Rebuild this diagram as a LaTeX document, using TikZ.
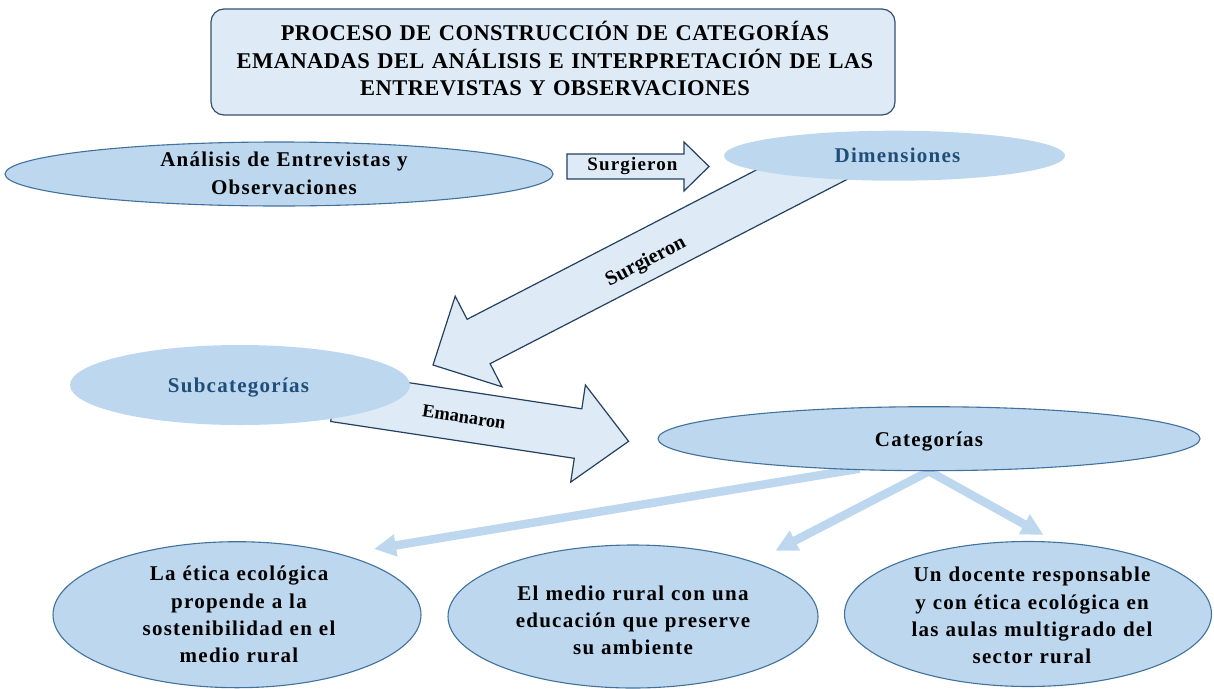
\documentclass[tikz,border=0pt]{standalone}
\usepackage{fontspec}
\setmainfont{Liberation Serif}
\newfontfamily\lsfont[LetterSpace=6]{Liberation Serif}
\newfontfamily\ttlfont[LetterSpace=2]{Liberation Serif}
\usetikzlibrary{shapes.geometric,arrows.meta}
\pgfdeclarelayer{bg}
\pgfsetlayers{bg,main}
\definecolor{ellfill}{HTML}{BDD7EE}
\definecolor{lightfill}{HTML}{DEEBF7}
\definecolor{ellborder}{HTML}{41719C}
\definecolor{boxborder}{HTML}{34506E}
\definecolor{arrborder}{HTML}{24405F}
\definecolor{darkblue}{HTML}{1F4E79}
\begin{document}
\begin{tikzpicture}[x=1pt,y=-1pt,
  ell/.style={ellipse, fill=ellfill, draw=ellborder, line width=1.1pt, inner sep=0pt},
  ellnb/.style={ellipse, fill=ellfill, inner sep=0pt},
  etxt/.style={font=\lsfont\bfseries\fontsize{21}{27.3}\selectfont, align=center, text width=360pt, anchor=base, inner sep=0pt},
  lbl/.style={font=\lsfont\bfseries\fontsize{19}{22}\selectfont, inner sep=0pt},
  rlbl/.style={font=\rmfamily\bfseries\fontsize{20.5}{22}\selectfont, inner sep=0pt},
  blockarr/.style={fill=lightfill, draw=arrborder, line width=1.2pt, line join=miter},
  catarr/.style={draw=ellfill, line width=8.5pt, -{Triangle[width=21pt,length=22pt]}, shorten <=-8pt},
]
\useasboundingbox (0,0) rectangle (1214,688);

% title
\node[draw=boxborder, fill=lightfill, rounded corners=13pt, minimum width=684pt, minimum height=106pt, line width=1.2pt, inner sep=0pt] (title) at (553,62) {};
\node[font=\ttlfont\bfseries\fontsize{22.5}{27.3}\selectfont, align=center, text width=680pt, anchor=base, inner sep=0pt] (titletext) at (555,40.7)
  {PROCESO DE CONSTRUCCIÓN DE CATEGORÍAS\\EMANADAS DEL ANÁLISIS E INTERPRETACIÓN DE LAS\\ENTREVISTAS Y OBSERVACIONES};

% block arrows
\draw[blockarr] (826,134) -- (467.1,319.3) -- (455.2,296.2) -- (433,365) -- (502,386.8) -- (490.1,363.7) -- (849,178.4) -- cycle;
\draw[blockarr] (338.2,372.0) -- (581.8,408.8) -- (585.4,385.0) -- (628.6,441.3) -- (570.7,482.1) -- (574.3,458.3) -- (330.7,421.5) -- cycle;
\draw[blockarr] (567,154) -- (684,154) -- (684,142) -- (709,166.5) -- (684,191) -- (684,179) -- (567,179) -- cycle;

% labels on block arrows
\node[lbl] (lblA) at (632.5,166.5) {Surgieron};
\node[rlbl, rotate=27.3] (lblB) at (646,262) {Surgieron};
\node[rlbl, font=\rmfamily\bfseries\fontsize{18.5}{22}\selectfont, rotate=-8.6] (lblC) at (464,417) {Emanaron};

% ellipses
\node[ell, minimum width=548pt, minimum height=64pt] (analisis) at (279,174) {};
\node[etxt] (analisistxt) at (284,166.7) {Análisis de Entrevistas y\\Observaciones};

\node[ellnb, minimum width=341pt, minimum height=50pt] (dimensiones) at (894.5,155.7) {};
\node[etxt, text=darkblue] (dimtxt) at (897.5,162.3) {Dimensiones};

\node[ellnb, minimum width=340pt, minimum height=80pt] (subcat) at (240,385) {};
\node[etxt, text=darkblue] (subtxt) at (238.5,392.3) {Subcategorías};

\node[ell, minimum width=542pt, minimum height=64pt] (categorias) at (929,438.7) {};
\node[etxt] (cattxt) at (929,446.7) {Categorías};

\node[ell, minimum width=368pt, minimum height=146pt] (cat1) at (237,614.7) {};
\node[etxt] (cat1txt) at (239,580.7) {La ética ecológica\\propende a la\\sostenibilidad en el\\medio rural};

\node[ell, minimum width=370pt, minimum height=143pt] (cat2) at (633,616.5) {};
\node[etxt] (cat2txt) at (633,600) {El medio rural con una\\educación que preserve\\su ambiente};

\node[ell, minimum width=367pt, minimum height=145pt] (cat3) at (1028,614) {};
\node[etxt] (cat3txt) at (1032,581.7) {Un docente responsable\\y con ética ecológica en\\las aulas multigrado del\\sector rural};

% arrows from Categorias
\coordinate (tipL) at (374,549);
\coordinate (tipM) at (775.4,550.7);
\coordinate (tipR) at (1043.6,535);
\begin{pgfonlayer}{bg}
\draw[catarr] (categorias.202.7) -- (tipL);
\draw[catarr] (categorias.south) -- (tipM);
\draw[catarr] (categorias.south) -- (tipR);
\end{pgfonlayer}
\end{tikzpicture}
\end{document}
